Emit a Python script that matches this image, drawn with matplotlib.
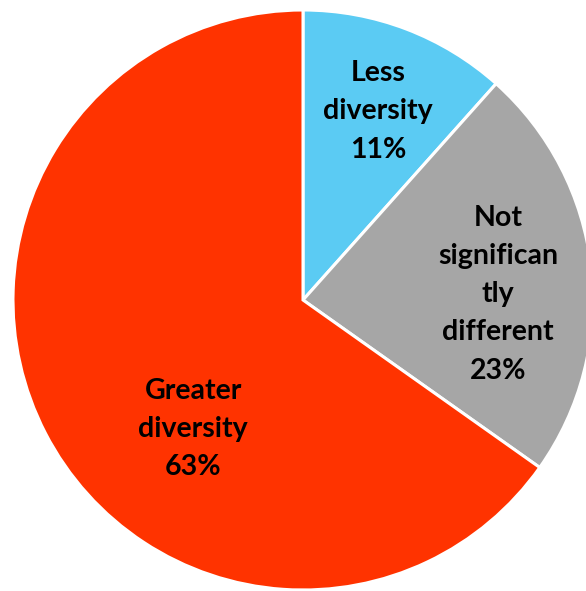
import matplotlib
matplotlib.use("Agg")
import matplotlib.pyplot as plt

categories = ["Less\ndiversity", "Not\nsignifican\ntly\ndifferent", "Greater\ndiversity"]
values = [11.6, 23.2, 65.2]
pct_labels = ["11%", "23%", "63%"]
colors = ["#5BCBF3", "#A6A6A6", "#FF3300"]
label_pos = [(0.259, 0.650), (0.672, 0.020), (-0.379, -0.445)]

W, H = 586, 591
cx, cy, r = 303, 300, 290

fig = plt.figure(figsize=(W / 100, H / 100), dpi=100)
ax = fig.add_axes([0, 0, 1, 1])
ax.pie(values, colors=colors, startangle=90, counterclock=False,
       radius=1.0, wedgeprops=dict(edgecolor="white", linewidth=2.2))
for cat, pct, (x, y) in zip(categories, pct_labels, label_pos):
    ax.text(x, y, f"{cat}\n{pct}", ha="center", va="center",
            fontsize=20.5, fontweight="bold", family=["Lato", "DejaVu Sans"],
            linespacing=1.58, color="black")
ax.set_aspect("auto")
ax.set_xlim(-cx / r, (W - cx) / r)
ax.set_ylim((cy - H) / r, cy / r)
ax.axis("off")
fig.savefig("out.png", dpi=100)
